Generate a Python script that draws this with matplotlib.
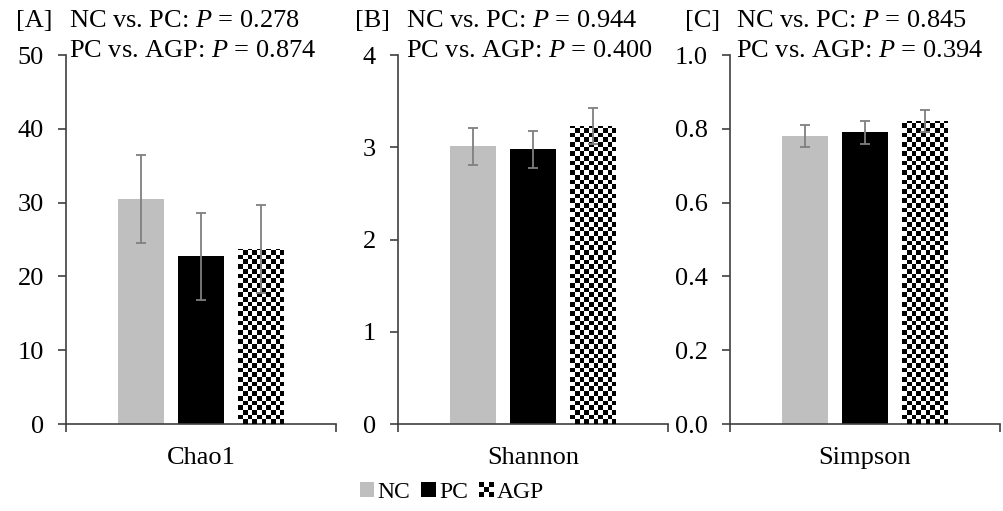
import numpy as np
import matplotlib
matplotlib.use("Agg")
import matplotlib.pyplot as plt
from matplotlib.patches import Patch, Rectangle
from matplotlib.collections import PatchCollection
from matplotlib.legend_handler import HandlerBase

plt.rcParams['font.family'] = ['Liberation Serif', 'DejaVu Serif']
plt.rcParams['mathtext.fontset'] = 'custom'
plt.rcParams['mathtext.rm'] = 'Liberation Serif'
plt.rcParams['mathtext.it'] = 'Liberation Serif:italic'

# data
groups = ['NC', 'PC', 'AGP']
metrics = ['Chao1', 'Shannon', 'Simpson']
panel_tags = ['[A]', '[B]', '[C]']

chao1_mean = [30.5, 22.7, 23.7]
chao1_err = [6.0, 5.9, 6.0]
shannon_mean = [3.01, 2.98, 3.23]
shannon_err = [0.20, 0.20, 0.20]
simpson_mean = [0.78, 0.79, 0.82]
simpson_err = [0.03, 0.03, 0.03]

p_nc_pc = ['0.278', '0.944', '0.845']
p_pc_agp = ['0.874', '0.400', '0.394']

y_max = [50, 4, 1.0]
y_step = [10, 1, 0.2]
y_fmt = ['{:.0f}', '{:.0f}', '{:.1f}']

means = [chao1_mean, shannon_mean, simpson_mean]
errs = [chao1_err, shannon_err, simpson_err]

W, H = 1004, 511
FS = 19
fig = plt.figure(figsize=(W / 100, H / 100), dpi=100)

ax_left = [66, 398, 730]      # px
ax_w = 270
ax_bottom = 424               # px from top
ax_top = 55
text_off = [3, 8, 6]

nc_color = '#bfbfbf'
axis_color = '#404040'
err_color = '#7f7f7f'
cell = 4.7                    # checker cell size, px

x_pos = 0.5 + np.array([-1, 0, 1]) * 0.223
bar_w = 0.171


def checker(ax, r):
    # black squares inside the bar r, clipped to it
    sx = ax.transData.transform((1, 0))[0] - ax.transData.transform((0, 0))[0]
    sy = ax.transData.transform((0, 1))[1] - ax.transData.transform((0, 0))[1]
    cx, cy = cell / sx, cell / sy
    ncol = int(np.ceil(r.get_width() / cx))
    nrow = int(np.ceil(r.get_height() / cy))
    sq = [Rectangle((r.get_x() + i * cx, j * cy), cx, cy)
          for i in range(ncol) for j in range(nrow) if (i + j) % 2 == 1]
    pc = PatchCollection(sq, facecolor='black', edgecolor='none', antialiased=False, zorder=3)
    ax.add_collection(pc)
    pc.set_clip_path(r)


for k in range(3):
    ax = fig.add_axes([ax_left[k] / W, (H - ax_bottom) / H, ax_w / W, (ax_bottom - ax_top) / H])
    ax.set_xlim(0, 1)
    ax.set_ylim(0, y_max[k])
    bars = ax.bar(x_pos, means[k], width=bar_w, color=[nc_color, 'black', 'white'],
                  edgecolor='none', zorder=2)
    ax.errorbar(x_pos, means[k], yerr=errs[k], fmt='none', ecolor=err_color,
                elinewidth=1.3, capsize=3.5, capthick=1.3, zorder=4)
    checker(ax, bars[2])
    ax.set_xlim(0, 1)
    ax.set_ylim(0, y_max[k])

    ticks = np.arange(0, y_max[k] + y_step[k] / 2, y_step[k])
    ax.set_yticks(ticks)
    ax.set_yticklabels([y_fmt[k].format(t) for t in ticks])
    ax.set_xticks([0, 1])
    ax.set_xticklabels([])
    ax.tick_params(axis='y', direction='out', length=6, width=1.2, color=axis_color,
                   labelsize=FS, pad=10)
    ax.tick_params(axis='x', direction='out', length=6, width=1.2, color=axis_color)
    for s in ['top', 'right']:
        ax.spines[s].set_visible(False)
    for s in ['left', 'bottom']:
        ax.spines[s].set_color(axis_color)
        ax.spines[s].set_linewidth(1.2)

    ax.text(0.5, -(458 - ax_bottom) / (ax_bottom - ax_top), metrics[k],
            transform=ax.transAxes, ha='center', va='center', fontsize=FS)

    x0 = (ax_left[k] + text_off[k]) / W
    fig.text(x0, 1 - 21 / H, 'NC vs. PC: $P$ = ' + p_nc_pc[k], ha='left', va='center', fontsize=FS)
    fig.text(x0 - 16 / W, 1 - 21 / H, panel_tags[k], ha='right', va='center', fontsize=FS)
    fig.text(x0, 1 - 51 / H, 'PC vs. AGP: $P$ = ' + p_pc_agp[k], ha='left', va='center', fontsize=FS)


class CheckerHandler(HandlerBase):
    def create_artists(self, legend, orig_handle, xdescent, ydescent, width, height, fontsize, trans):
        s = min(width, height)
        c = s / 3
        x0 = -xdescent + (width - s) / 2
        y0 = -ydescent + (height - s) / 2
        arts = []
        for i in range(3):
            for j in range(3):
                if (i + j) % 2 == 0:
                    arts.append(Rectangle((x0 + i * c, y0 + j * c), c, c, facecolor='black',
                                          edgecolor='none', transform=trans))
        return arts


agp_handle = Patch(facecolor='white')
handles = [Patch(facecolor=nc_color, edgecolor='none'),
           Patch(facecolor='black', edgecolor='none'),
           agp_handle]
fig.legend(handles, groups, loc='center', bbox_to_anchor=(452 / W, 1 - 492 / H), ncol=3,
           frameon=False, fontsize=17, handlelength=0.62, handleheight=0.62,
           handletextpad=0.15, columnspacing=0.45,
           handler_map={agp_handle: CheckerHandler()})

fig.savefig('out.png', dpi=100)
